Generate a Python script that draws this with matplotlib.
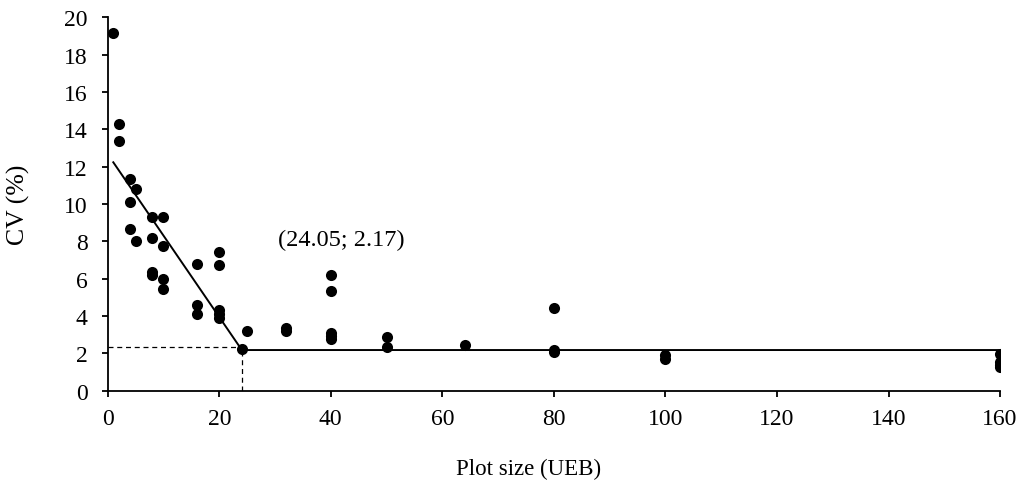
import matplotlib
matplotlib.use("Agg")
import matplotlib.pyplot as plt

# data
plot_size = [1, 2, 2,
             4, 4, 4, 5, 5,
             8, 8, 8, 8,
             10, 10, 10, 10,
             16, 16, 16,
             20, 20, 20, 20, 20,
             24.05, 25, 32, 32,
             40, 40, 40, 40, 40,
             50, 50, 64,
             80, 80, 80,
             100, 100,
             160, 160, 160, 160]
cv = [19.15, 14.3, 13.35,
      11.35, 10.1, 8.65, 10.8, 8.0,
      9.32, 8.18, 6.35, 6.17,
      9.32, 7.73, 5.98, 5.45,
      6.8, 4.58, 4.12,
      7.43, 6.7, 4.3, 4.1, 3.88,
      2.2, 3.2, 3.33, 3.18,
      6.2, 5.36, 3.1, 2.9, 2.75,
      2.86, 2.32, 2.45,
      4.41, 2.15, 2.05,
      1.9, 1.7,
      1.95, 1.55, 1.35, 1.25]

# plateau model: linear segment then plateau
fit_x = [1, 24.05, 160]
fit_y = [12.23, 2.17, 2.17]
join_x, join_y = 24.05, 2.17
guide_y = 2.33

plt.rcParams["font.family"] = ["Liberation Serif", "DejaVu Serif"]

fig = plt.figure(figsize=(10.21, 4.81), dpi=100)
ax = fig.add_axes([0.1055, 0.186, 0.874, 0.776])

ax.plot(fit_x, fit_y, color="black", linewidth=1.4, zorder=2)
ax.plot([0, join_x], [guide_y, guide_y], color="black", linewidth=0.9,
        linestyle=(0, (4, 3)), zorder=1)
ax.plot([join_x, join_x], [0, join_y], color="black", linewidth=0.9,
        linestyle=(0, (4, 3)), zorder=1)
ax.scatter(plot_size, cv, s=64, color="black", zorder=3, linewidths=0)

ax.text(41.8, 8.12, f"({join_x:.2f}; {join_y:.2f})", ha="center",
        va="center", fontsize=17.5)

ax.set_xlim(0, 160)
ax.set_ylim(0, 20)
ax.set_xticks(range(0, 161, 20))
ax.set_yticks(range(0, 21, 2))
ax.tick_params(direction="out", length=4.3, width=1.3, labelsize=17)
ax.tick_params(axis="x", pad=8)
ax.tick_params(axis="y", pad=10)
for side in ("top", "right"):
    ax.spines[side].set_visible(False)
for side in ("left", "bottom"):
    ax.spines[side].set_linewidth(1.3)

ax.set_xlabel("Plot size (UEB)", fontsize=16.5)
ax.set_ylabel("CV (%)", fontsize=18.5)
ax.xaxis.set_label_coords(0.472, -0.18)
ax.yaxis.set_label_coords(-0.087, 0.5)

fig.savefig("out.png", dpi=100)
